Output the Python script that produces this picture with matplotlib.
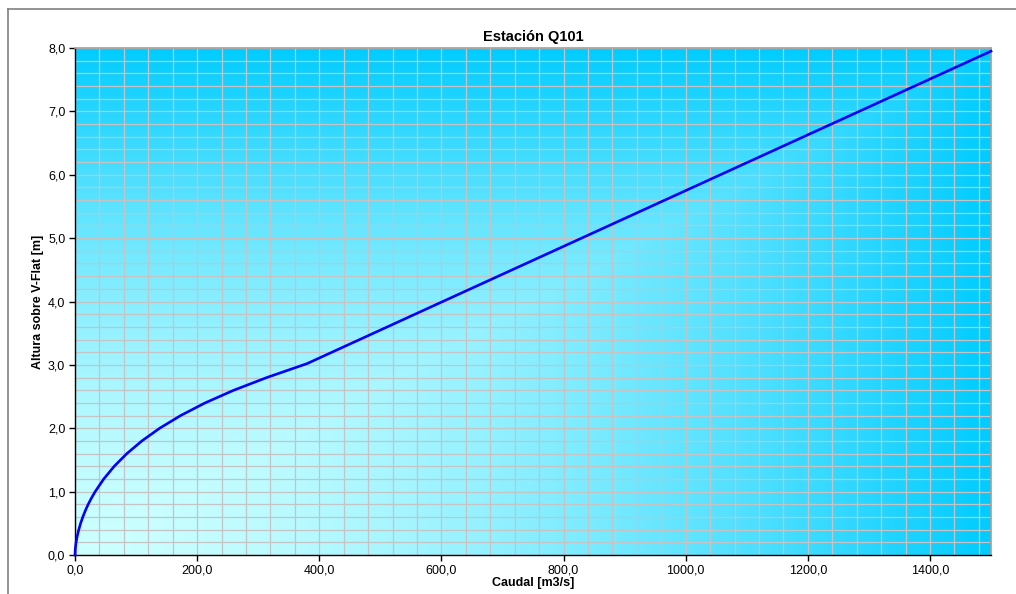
import matplotlib

matplotlib.use("Agg")
import matplotlib.pyplot as plt
import numpy as np
from matplotlib.colors import LinearSegmentedColormap
from matplotlib.lines import Line2D
from matplotlib.ticker import FuncFormatter, MultipleLocator

# rating curve: discharge [m3/s] and stage [m]
caudal = [0, 0.5, 1.8, 3.7, 6.2, 9.2, 12.8, 16.9, 21.6, 27.0, 33,
          47.1, 64.2, 84.9, 109.5, 138.6, 172.9, 213, 260, 314, 380,
          600, 800, 1000, 1200, 1500]
altura = [0.0, 0.1, 0.2, 0.3, 0.4, 0.5, 0.6, 0.7, 0.8, 0.9, 1.0,
          1.2, 1.4, 1.6, 1.8, 2.0, 2.2, 2.4, 2.6, 2.8, 3.02,
          3.99, 4.87, 5.75, 6.63, 7.95]

x_ticks = [0, 200, 400, 600, 800, 1000, 1200, 1400]
y_ticks = [0, 1, 2, 3, 4, 5, 6, 7, 8]

plt.rcParams["font.family"] = ["Liberation Sans", "DejaVu Sans"]

fig = plt.figure(figsize=(10.16, 5.94), dpi=100)
ax = fig.add_axes([75 / 1016, 39 / 594, 916 / 1016, 507 / 594])
ax.set_xlim(0, 1500)
ax.set_ylim(0, 8)

# "from corner" gradient fill of the plot area
gx = np.linspace(0, 1, 400)
gy = np.linspace(0, 1, 400)
U, V = np.meshgrid(gx, gy)
T = np.maximum(U, V) ** 1.6
cmap = LinearSegmentedColormap.from_list("fondo", ["#ccffff", "#00ccff"])
ax.imshow(T, cmap=cmap, origin="lower", extent=(0, 1500, 0, 8),
          aspect="auto", interpolation="bilinear", zorder=0)

ax.xaxis.set_minor_locator(MultipleLocator(40))
ax.yaxis.set_minor_locator(MultipleLocator(0.2))
ax.set_xticks(x_ticks)
ax.set_yticks(y_ticks)
fmt = FuncFormatter(lambda v, p: f"{v:.1f}".replace(".", ","))
ax.xaxis.set_major_formatter(fmt)
ax.yaxis.set_major_formatter(fmt)
ax.grid(which="both", color="#c4c4c4", linewidth=0.9, zorder=1)
ax.set_axisbelow(True)
ax.tick_params(which="major", length=4, width=1, color="black",
               labelsize=9, pad=3)
ax.tick_params(which="minor", length=0)

ax.plot(caudal, altura, color="#0000ff", linewidth=1.9, zorder=3,
        solid_joinstyle="round", clip_on=False)

for side in ("top", "right"):
    ax.spines[side].set_color("#a0a0a0")
    ax.spines[side].set_linewidth(1.2)
for side in ("left", "bottom"):
    ax.spines[side].set_color("black")
    ax.spines[side].set_linewidth(1.0)

ax.set_title("Estación Q101", fontsize=10.5, fontweight="bold", pad=5)
ax.set_xlabel("Caudal [m3/s]", fontsize=9, fontweight="bold", labelpad=0)
ax.set_ylabel("Altura sobre V-Flat [m]", fontsize=9, fontweight="bold",
              labelpad=3)

# chart-area frame (partially cropped in the original)
fx0 = 8 / 1016
fy0 = 1 - 9 / 594
fig.add_artist(Line2D([fx0, fx0], [0, fy0], color="#808080", linewidth=1.2,
                      transform=fig.transFigure))
fig.add_artist(Line2D([fx0, 1], [fy0, fy0], color="#808080", linewidth=1.2,
                      transform=fig.transFigure))

fig.savefig("out.png", dpi=100, facecolor="white")
